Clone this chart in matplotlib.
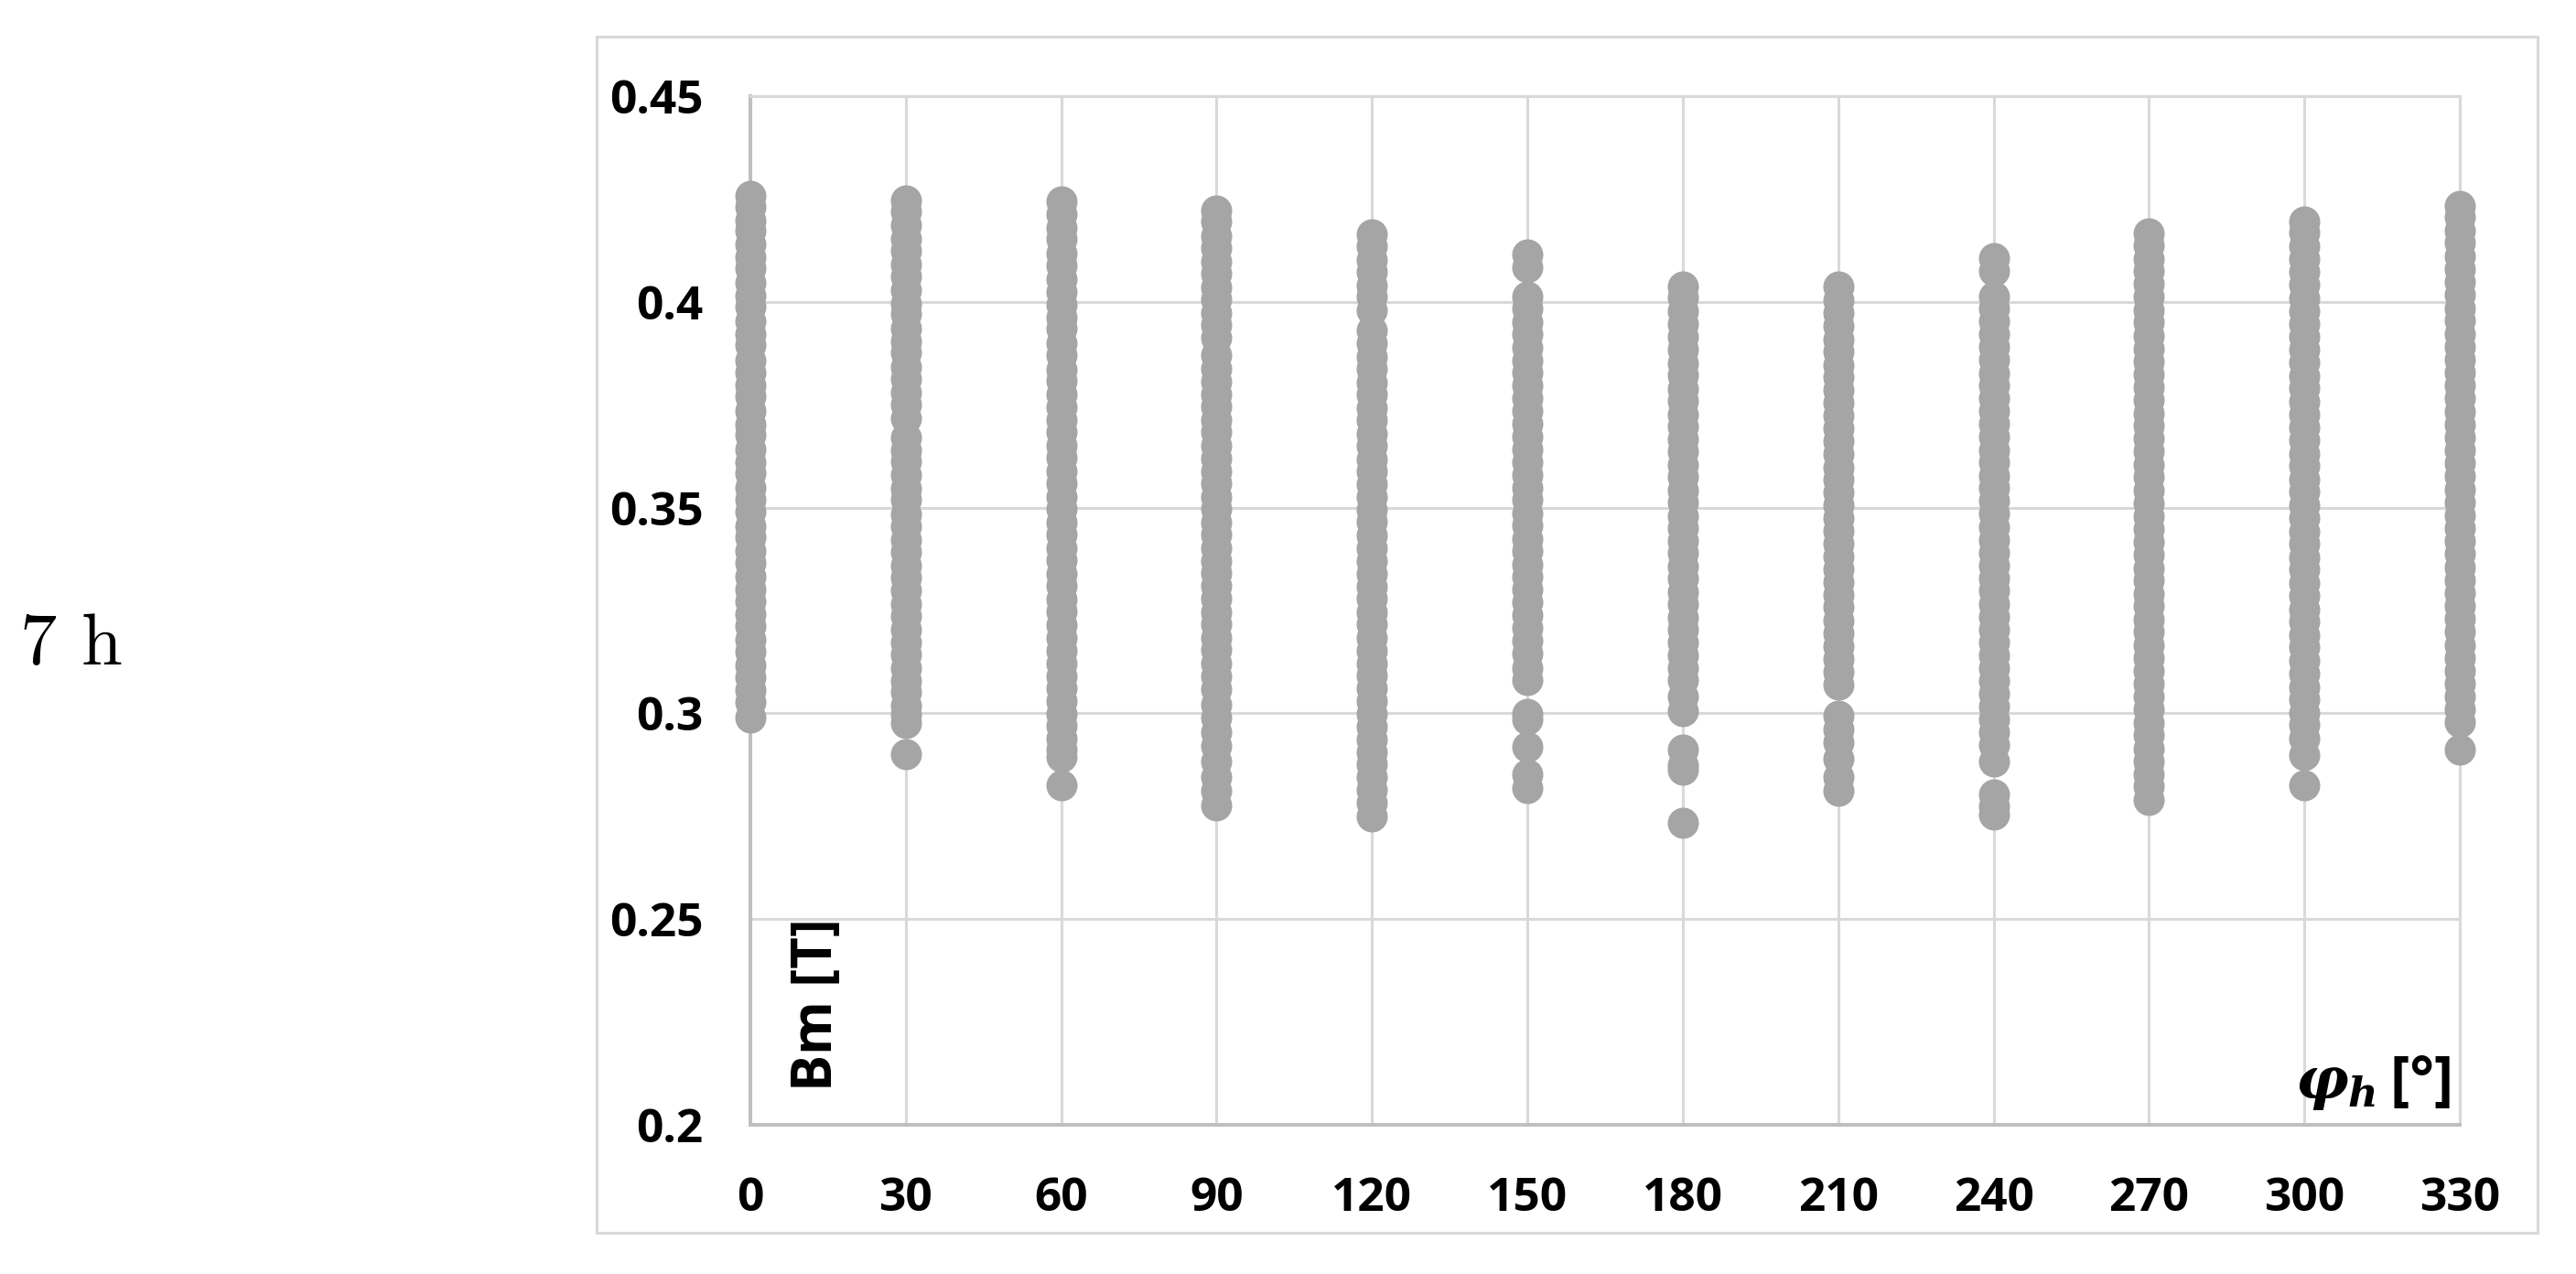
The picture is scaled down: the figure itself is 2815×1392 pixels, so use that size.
import matplotlib
matplotlib.use("Agg")
import matplotlib.pyplot as plt
from matplotlib.patches import Rectangle

plt.rcParams['mathtext.fontset'] = 'custom'
plt.rcParams['mathtext.it'] = 'DejaVu Serif:italic:bold'
plt.rcParams['mathtext.rm'] = 'Open Sans:bold'

# ---------------- data ----------------
angles = [0, 30, 60, 90, 120, 150, 180, 210, 240, 270, 300, 330]
xtick_labels = ["0", "30", "60", "90", "120", "150", "180", "210", "240", "270", "300", "330"]
yticks = [0.2, 0.25, 0.3, 0.35, 0.4, 0.45]
ytick_labels = ["0.2", "0.25", "0.3", "0.35", "0.4", "0.45"]

bm_0 = [0.4257, 0.4231, 0.4198, 0.4172, 0.4140, 0.4109, 0.4081, 0.4046, 0.4015, 0.3988, 0.3952,
        0.3921, 0.3896, 0.3858, 0.3829, 0.3797, 0.3770, 0.3735, 0.3702, 0.3676, 0.3641, 0.3610,
        0.3583, 0.3549, 0.3518, 0.3490, 0.3455, 0.3427, 0.3394, 0.3366, 0.3332, 0.3301, 0.3273,
        0.3240, 0.3212, 0.3178, 0.3149, 0.3117, 0.3088, 0.3056, 0.3027, 0.2990]
bm_30 = [0.4247, 0.4219, 0.4186, 0.4153, 0.4124, 0.4090, 0.4061, 0.4029, 0.3996, 0.3970, 0.3935,
         0.3904, 0.3877, 0.3841, 0.3812, 0.3780, 0.3751, 0.3718, 0.3671, 0.3640, 0.3612, 0.3579,
         0.3546, 0.3520, 0.3484, 0.3455, 0.3421, 0.3393, 0.3360, 0.3329, 0.3298, 0.3266, 0.3237,
         0.3203, 0.3172, 0.3144, 0.3110, 0.3079, 0.3051, 0.3018, 0.2997, 0.2977, 0.2900]
bm_60 = [0.4244, 0.4214, 0.4180, 0.4152, 0.4117, 0.4089, 0.4055, 0.4024, 0.3993, 0.3962, 0.3934,
         0.3900, 0.3871, 0.3836, 0.3808, 0.3775, 0.3744, 0.3713, 0.3683, 0.3650, 0.3622, 0.3588,
         0.3559, 0.3525, 0.3497, 0.3463, 0.3434, 0.3401, 0.3372, 0.3339, 0.3310, 0.3276, 0.3248,
         0.3215, 0.3184, 0.3153, 0.3122, 0.3090, 0.3061, 0.3029, 0.2998, 0.2969, 0.2938, 0.2911,
         0.2893, 0.2825]
bm_90 = [0.4221, 0.4195, 0.4160, 0.4131, 0.4098, 0.4068, 0.4035, 0.4006, 0.3972, 0.3944, 0.3912,
         0.3870, 0.3838, 0.3807, 0.3775, 0.3745, 0.3712, 0.3684, 0.3650, 0.3620, 0.3588, 0.3558,
         0.3526, 0.3496, 0.3463, 0.3435, 0.3402, 0.3371, 0.3341, 0.3309, 0.3279, 0.3246, 0.3217,
         0.3184, 0.3155, 0.3122, 0.3090, 0.3058, 0.3020, 0.2990, 0.2954, 0.2920, 0.2884, 0.2846,
         0.2812, 0.2776]
bm_120 = [0.4164, 0.4135, 0.4102, 0.4073, 0.4040, 0.4012, 0.3980, 0.3930, 0.3899, 0.3866, 0.3838,
          0.3804, 0.3775, 0.3742, 0.3712, 0.3680, 0.3650, 0.3618, 0.3588, 0.3556, 0.3525, 0.3494,
          0.3465, 0.3432, 0.3402, 0.3370, 0.3340, 0.3308, 0.3278, 0.3246, 0.3216, 0.3184, 0.3153,
          0.3122, 0.3092, 0.3060, 0.3030, 0.2998, 0.2968, 0.2937, 0.2906, 0.2876, 0.2845, 0.2815,
          0.2783, 0.2750]
bm_150 = [0.4115, 0.4085, 0.4013, 0.3983, 0.3951, 0.3921, 0.3889, 0.3858, 0.3828, 0.3796, 0.3766,
          0.3734, 0.3704, 0.3672, 0.3642, 0.3610, 0.3580, 0.3548, 0.3518, 0.3486, 0.3456, 0.3424,
          0.3394, 0.3362, 0.3332, 0.3300, 0.3270, 0.3238, 0.3208, 0.3176, 0.3146, 0.3110, 0.3081,
          0.2999, 0.2985, 0.2918, 0.2852, 0.2819]
bm_180 = [0.4037, 0.4010, 0.3977, 0.3946, 0.3914, 0.3884, 0.3851, 0.3822, 0.3789, 0.3760, 0.3727,
          0.3698, 0.3665, 0.3636, 0.3603, 0.3574, 0.3541, 0.3512, 0.3479, 0.3450, 0.3418, 0.3389,
          0.3356, 0.3327, 0.3295, 0.3266, 0.3233, 0.3204, 0.3172, 0.3142, 0.3110, 0.3080, 0.3040,
          0.3006, 0.2911, 0.2875, 0.2862, 0.2735]
bm_210 = [0.4037, 0.4005, 0.3972, 0.3942, 0.3909, 0.3880, 0.3847, 0.3817, 0.3785, 0.3755, 0.3723,
          0.3693, 0.3661, 0.3631, 0.3598, 0.3569, 0.3536, 0.3506, 0.3474, 0.3444, 0.3412, 0.3382,
          0.3350, 0.3320, 0.3287, 0.3258, 0.3225, 0.3195, 0.3163, 0.3133, 0.3100, 0.3070, 0.2995,
          0.2960, 0.2930, 0.2889, 0.2846, 0.2812]
bm_240 = [0.4107, 0.4075, 0.4013, 0.3985, 0.3952, 0.3921, 0.3890, 0.3859, 0.3827, 0.3797, 0.3765,
          0.3734, 0.3703, 0.3672, 0.3640, 0.3610, 0.3578, 0.3547, 0.3516, 0.3485, 0.3453, 0.3422,
          0.3391, 0.3360, 0.3328, 0.3298, 0.3266, 0.3235, 0.3204, 0.3173, 0.3141, 0.3110, 0.3079,
          0.3048, 0.3016, 0.2985, 0.2954, 0.2922, 0.2882, 0.2803, 0.2775, 0.2753]
bm_270 = [0.4166, 0.4138, 0.4105, 0.4075, 0.4043, 0.4012, 0.3980, 0.3950, 0.3917, 0.3887, 0.3855,
          0.3824, 0.3792, 0.3762, 0.3729, 0.3699, 0.3667, 0.3636, 0.3604, 0.3574, 0.3541, 0.3511,
          0.3479, 0.3448, 0.3416, 0.3386, 0.3353, 0.3323, 0.3291, 0.3260, 0.3228, 0.3198, 0.3165,
          0.3135, 0.3103, 0.3072, 0.3040, 0.3010, 0.2977, 0.2947, 0.2915, 0.2884, 0.2852, 0.2822,
          0.2790]
bm_300 = [0.4196, 0.4168, 0.4135, 0.4104, 0.4072, 0.4041, 0.4009, 0.3978, 0.3946, 0.3916, 0.3883,
          0.3853, 0.3820, 0.3790, 0.3757, 0.3727, 0.3694, 0.3664, 0.3631, 0.3601, 0.3568, 0.3538,
          0.3505, 0.3475, 0.3442, 0.3412, 0.3379, 0.3349, 0.3316, 0.3286, 0.3253, 0.3223, 0.3190,
          0.3160, 0.3127, 0.3097, 0.3064, 0.3034, 0.3001, 0.2971, 0.2938, 0.2898, 0.2825]
bm_330 = [0.4234, 0.4206, 0.4174, 0.4143, 0.4111, 0.4080, 0.4048, 0.4017, 0.3985, 0.3954, 0.3922,
          0.3891, 0.3859, 0.3828, 0.3796, 0.3765, 0.3733, 0.3702, 0.3670, 0.3639, 0.3607, 0.3576,
          0.3544, 0.3513, 0.3481, 0.3450, 0.3418, 0.3387, 0.3355, 0.3324, 0.3292, 0.3261, 0.3229,
          0.3198, 0.3166, 0.3135, 0.3103, 0.3072, 0.3040, 0.3009, 0.2979, 0.2911]

series = [bm_0, bm_30, bm_60, bm_90, bm_120, bm_150, bm_180, bm_210, bm_240, bm_270, bm_300, bm_330]

# ---------------- figure ----------------
GRID = '#d9d9d9'
MARK = '#a5a5a5'
TICKFONT = 'Open Sans'

fig = plt.figure(figsize=(28.15, 13.92), dpi=100)
fig.patch.set_facecolor('white')

# chart-area border
fig.add_artist(Rectangle((0.2316, 0.0323), 0.9851 - 0.2316, 0.9713 - 0.0323,
                         transform=fig.transFigure, fill=False,
                         edgecolor=GRID, linewidth=2.2))

ax = fig.add_axes([0.2913, 0.1171, 0.6636, 0.8075])
xs, ys = [], []
for a, vals in zip(angles, series):
    xs.extend([a] * len(vals))
    ys.extend(vals)
ax.plot(xs, ys, linestyle='none', marker='o', markersize=24.5,
        markerfacecolor=MARK, markeredgecolor=MARK, markeredgewidth=0, zorder=3,
        clip_on=False)

ax.set_xlim(0, 330)
ax.set_ylim(0.2, 0.45)
ax.set_xticks(angles)
ax.set_xticklabels(xtick_labels)
ax.set_yticks(yticks)
ax.set_yticklabels(ytick_labels)
ax.grid(True, color=GRID, linewidth=2.2)
ax.set_axisbelow(True)
ax.tick_params(length=0)
ax.tick_params(axis='y', pad=37)
ax.tick_params(axis='x', pad=40)
for lab in ax.get_xticklabels() + ax.get_yticklabels():
    lab.set_fontfamily(TICKFONT)
    lab.set_fontweight('bold')
    lab.set_fontsize(37)
    lab.set_color('black')

for side in ['left', 'bottom']:
    ax.spines[side].set_color('#bfbfbf')
    ax.spines[side].set_linewidth(2.9)
for side in ['top', 'right']:
    ax.spines[side].set_color(GRID)
    ax.spines[side].set_linewidth(2.2)

# axis titles inside the plot
ax.text(893 / 2815, 1 - 1192 / 1392, 'Bm [T]', transform=fig.transFigure,
        rotation=90, ha='center', va='bottom', fontsize=43,
        fontfamily=TICKFONT, fontweight='bold', color='black')
ax.text(2678 / 2815, 1 - 1200 / 1392, r'$\varphi_h\,$[°]', transform=fig.transFigure,
        ha='right', va='baseline', fontsize=46,
        fontfamily=TICKFONT, fontweight='bold', color='black')

# side label
fig.text(22 / 2815, 1 - 726 / 1392, '7 h', ha='left', va='baseline',
         fontsize=58, fontfamily='cmr10', color='black')

fig.savefig('out.png', dpi=100, facecolor='white')
